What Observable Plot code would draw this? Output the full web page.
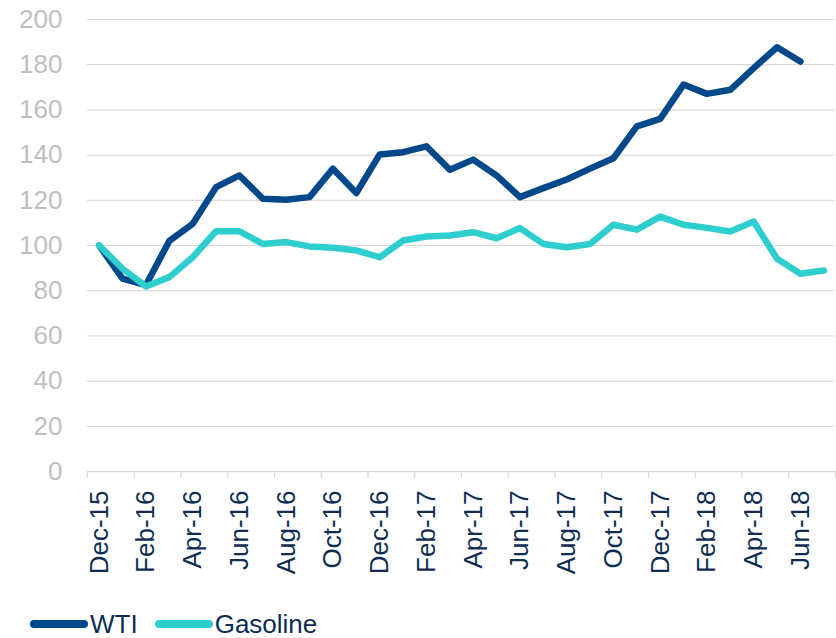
<!DOCTYPE html>
<html><head><meta charset="utf-8">
<script src="https://cdn.jsdelivr.net/npm/d3@7"></script>
<script src="https://cdn.jsdelivr.net/npm/@observablehq/plot@0.6"></script>
<style>
body{margin:0;background:#fff;font-family:"Liberation Sans",Arial,sans-serif;}
#wrap{position:relative;width:836px;height:638px;overflow:hidden;background:#fff}
#legend{position:absolute;left:30px;top:611px;display:flex;align-items:center;font-size:26px;line-height:26px;height:26px;color:#0f2d52}
.item{display:flex;align-items:center;margin-right:17px}
.sw{display:inline-block;width:58px;height:8px;border-radius:4px;margin-right:2px}
</style></head><body><div id="wrap"><div id="chart"></div><div id="legend"></div></div>
<script>
const months = ["Dec-15","Jan-16","Feb-16","Mar-16","Apr-16","May-16","Jun-16","Jul-16","Aug-16","Sep-16","Oct-16","Nov-16",
  "Dec-16","Jan-17","Feb-17","Mar-17","Apr-17","May-17","Jun-17","Jul-17","Aug-17","Sep-17","Oct-17","Nov-17",
  "Dec-17","Jan-18","Feb-18","Mar-18","Apr-18","May-18","Jun-18","Jul-18"];
const wti = [100,85.3,82.5,102,109.6,125.8,131,120.7,120.2,121.4,134,123.2,140.3,141.3,143.9,133.5,138,131,121.4,125.4,129.2,134,138.6,152.7,156,171.2,167.1,168.9,178.5,187.7,181.4];
const gasoline = [100,89.7,81.9,86,94.8,106.3,106.3,100.7,101.5,99.6,99,97.8,94.8,102.2,104,104.4,105.9,103.2,107.7,100.7,99.2,100.7,109.2,107,112.8,109.2,107.8,106.2,110.6,94.1,87.5,88.9];
const yTicks = [0,20,40,60,80,100,120,140,160,180,200];
const seriesNames = ["WTI","Gasoline"];
const seriesColors = ["#02488a","#2ecece"];

const rows = [];
wti.forEach((v,i)=>rows.push({i, v, s:seriesNames[0]}));
gasoline.forEach((v,i)=>rows.push({i, v, s:seriesNames[1]}));

const labelIdx = d3.range(0, months.length, 2);
const boundaries = d3.range(-0.5, months.length, 2);

const chart = Plot.plot({
  width: 836,
  height: 600,
  marginLeft: 87,
  marginRight: 1,
  marginTop: 19,
  marginBottom: 129,
  style: {fontFamily: "'Liberation Sans', Arial, sans-serif", background: "#fff"},
  x: {type: "linear", domain: [-0.5, months.length - 0.5]},
  y: {domain: [0, 200]},
  color: {domain: seriesNames, range: seriesColors},
  marks: [
    Plot.gridY(yTicks, {stroke: "#d9d9d9", strokeOpacity: 1, strokeWidth: 1.2}),
    Plot.ruleY([0], {stroke: "#d9d9d9", strokeWidth: 1.5}),
    Plot.axisY(yTicks, {tickSize: 0, tickPadding: 25, fill: "#bfbfbf", fontSize: 26, label: null}),
    Plot.axisX(boundaries, {tickSize: 7, stroke: "#d9d9d9", strokeWidth: 1.2, text: null, label: null}),
    Plot.axisX(labelIdx, {tickSize: 0, tickRotate: -90, tickPadding: 19, tickFormat: i => months[i], fill: "#0f2d52", fontSize: 26, label: null}),
    Plot.line(rows, {x: "i", y: "v", z: "s", stroke: "s", strokeWidth: 6.5, strokeLinecap: "round", strokeLinejoin: "round"})
  ]
});
document.getElementById("chart").appendChild(chart);

const legend = document.getElementById("legend");
seriesNames.forEach((n,k)=>{
  const it = document.createElement("div"); it.className = "item";
  const sw = document.createElement("span"); sw.className = "sw"; sw.style.background = seriesColors[k];
  const t = document.createElement("span"); t.textContent = n;
  it.appendChild(sw); it.appendChild(t); legend.appendChild(it);
});
</script></body></html>
